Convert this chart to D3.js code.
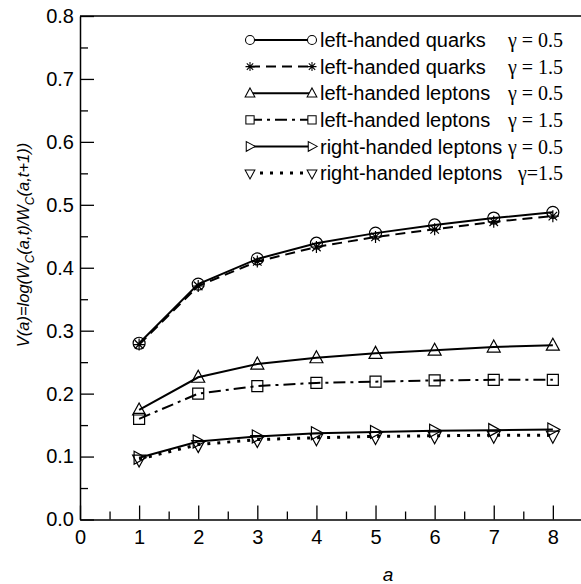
<!DOCTYPE html>
<html>
<head>
<meta charset="utf-8">
<script src="https://cdn.jsdelivr.net/npm/d3@7"></script>
<style>
  body { margin: 0; background: #fff; }
  svg text { font-family: "Liberation Sans", Arial, sans-serif; fill: #000; }
</style>
</head>
<body>
<div id="chart"></div>
<script>
// data
const aValues = [1, 2, 3, 4, 5, 6, 7, 8];
const quarksG05 = [0.280, 0.374, 0.414, 0.439, 0.455, 0.468, 0.479, 0.488];
const quarksG15 = [0.278, 0.371, 0.410, 0.433, 0.449, 0.461, 0.473, 0.482];
const leptonsG05 = [0.174, 0.226, 0.247, 0.257, 0.264, 0.269, 0.274, 0.277];
const leptonsG15 = [0.160, 0.200, 0.212, 0.217, 0.219, 0.221, 0.222, 0.222];
const rightG05 = [0.098, 0.124, 0.132, 0.137, 0.139, 0.141, 0.142, 0.143];
const rightG15 = [0.096, 0.119, 0.127, 0.130, 0.132, 0.133, 0.134, 0.134];
const seriesNames = ["left-handed quarks", "left-handed quarks", "left-handed leptons",
                     "left-handed leptons", "right-handed leptons", "right-handed leptons"];
const gammaLabels = ["\u03b3 = 0.5", "\u03b3 = 1.5", "\u03b3 = 0.5", "\u03b3 = 1.5", "\u03b3 = 0.5", "\u03b3=1.5"];
const xTicks = [0, 1, 2, 3, 4, 5, 6, 7, 8];
const xMinorTicks = [0.5, 1.5, 2.5, 3.5, 4.5, 5.5, 6.5, 7.5];
const yTicks = [0, 0.1, 0.2, 0.3, 0.4, 0.5, 0.6, 0.7, 0.8];
const yMinorTicks = [0.05, 0.15, 0.25, 0.35, 0.45, 0.55, 0.65, 0.75];

const allSeries = [quarksG05, quarksG15, leptonsG05, leptonsG15, rightG05, rightG15];
const styles = [
  { marker: "circle", dash: null },
  { marker: "asterisk", dash: "10,6" },
  { marker: "triUp", dash: null },
  { marker: "square", dash: "12,5,3,5" },
  { marker: "triRight", dash: null },
  { marker: "triDown", dash: "3,7", width: 3 }
];

const W = 581, H = 584;
const svg = d3.select("#chart").append("svg")
  .attr("width", W).attr("height", H);

const x = d3.scaleLinear().domain([0, 8.5]).range([80, 582.4]);
const y = d3.scaleLinear().domain([0, 0.8]).range([519.5, 16]);

// marker shapes
function markerPath(type) {
  const p = d3.path();
  if (type === "circle") {
    p.arc(0, 0, 6, 0, 2 * Math.PI);
  } else if (type === "square") {
    p.rect(-5.5, -5.5, 11, 11);
  } else if (type === "triUp") {
    p.moveTo(0, -7); p.lineTo(6.5, 5); p.lineTo(-6.5, 5); p.closePath();
  } else if (type === "triDown") {
    p.moveTo(0, 8); p.lineTo(6.5, -4); p.lineTo(-6.5, -4); p.closePath();
  } else if (type === "triRight") {
    p.moveTo(7, 0); p.lineTo(-5, 6.5); p.lineTo(-5, -6.5); p.closePath();
  } else if (type === "asterisk") {
    const r = 6;
    for (let k = 0; k < 4; k++) {
      const ang = k * Math.PI / 4;
      p.moveTo(-r * Math.cos(ang), -r * Math.sin(ang));
      p.lineTo(r * Math.cos(ang), r * Math.sin(ang));
    }
  }
  return p.toString();
}

// axes
const gx = svg.append("g").attr("transform", `translate(0,${y(0)})`);
gx.call(d3.axisBottom(x).tickValues(xTicks).tickSize(-14).tickSizeOuter(0).tickPadding(10).tickFormat(d3.format("d")));
gx.append("g").call(d3.axisBottom(x).tickValues(xMinorTicks).tickSize(-8).tickFormat(""))
  .select(".domain").remove();

const gy = svg.append("g").attr("transform", `translate(${x(0)},0)`);
gy.call(d3.axisLeft(y).tickValues(yTicks).tickSize(-14).tickSizeOuter(0).tickPadding(6).tickFormat(d3.format(".1f")));
gy.append("g").call(d3.axisLeft(y).tickValues(yMinorTicks).tickSize(-8).tickFormat(""))
  .select(".domain").remove();

svg.selectAll(".domain").attr("stroke", "#000").attr("stroke-width", 1.5);
svg.selectAll(".tick line").attr("stroke", "#000").attr("stroke-width", 1.3);
svg.selectAll(".tick text").style("font-size", "20px").attr("fill", "#000");

// top border
svg.append("line")
  .attr("x1", x(0)).attr("x2", x(8.5))
  .attr("y1", y(0.8)).attr("y2", y(0.8))
  .attr("stroke", "#000").attr("stroke-width", 1.5);

// axis titles
svg.append("text")
  .attr("x", 388).attr("y", 581)
  .attr("text-anchor", "middle")
  .style("font-size", "19px").style("font-style", "italic")
  .text("a");

const yl = svg.append("text")
  .attr("transform", "translate(29,245) rotate(-90)")
  .attr("text-anchor", "middle")
  .style("font-size", "16.5px").style("font-style", "italic");
yl.append("tspan").text("V(a)=log(W");
yl.append("tspan").attr("dy", 5).style("font-size", "12px").text("C");
yl.append("tspan").attr("dy", -5).text("(a,t)/W");
yl.append("tspan").attr("dy", 5).style("font-size", "12px").text("C");
yl.append("tspan").attr("dy", -5).text("(a,t+1))");

// series
const line = d3.line().x((d, i) => x(aValues[i])).y(d => y(d));
allSeries.forEach((vals, s) => {
  const st = styles[s];
  svg.append("path")
    .attr("d", line(vals))
    .attr("fill", "none")
    .attr("stroke", "#000")
    .attr("stroke-width", st.width || 2)
    .attr("stroke-dasharray", st.dash);
  svg.selectAll(null)
    .data(vals)
    .enter()
    .append("path")
    .attr("transform", (d, i) => `translate(${x(aValues[i])},${y(d)})`)
    .attr("d", markerPath(st.marker))
    .attr("fill", "none")
    .attr("stroke", "#000")
    .attr("stroke-width", 1.2);
});

// legend
const legendY0 = 40, legendDy = 26.6;
seriesNames.forEach((name, s) => {
  const st = styles[s];
  const ly = legendY0 + s * legendDy;
  const g = svg.append("g");
  g.append("line")
    .attr("x1", 250).attr("x2", 312).attr("y1", ly).attr("y2", ly)
    .attr("stroke", "#000").attr("stroke-width", st.width || 2)
    .attr("stroke-dasharray", st.dash);
  [250, 312].forEach(mx => {
    g.append("path")
      .attr("transform", `translate(${mx},${ly}) scale(0.75)`)
      .attr("d", markerPath(st.marker))
      .attr("fill", "#fff")
      .attr("stroke", "#000")
      .attr("stroke-width", 1.4);
  });
  g.append("text")
    .attr("x", 320).attr("y", ly).attr("dy", "0.36em")
    .style("font-size", "20px")
    .text(name);
  g.append("text")
    .attr("x", 563).attr("y", ly).attr("dy", "0.36em")
    .attr("text-anchor", "end")
    .style("font-family", "'Liberation Serif', 'Times New Roman', serif")
    .style("font-size", "20px")
    .text(gammaLabels[s]);
});
</script>
</body>
</html>
